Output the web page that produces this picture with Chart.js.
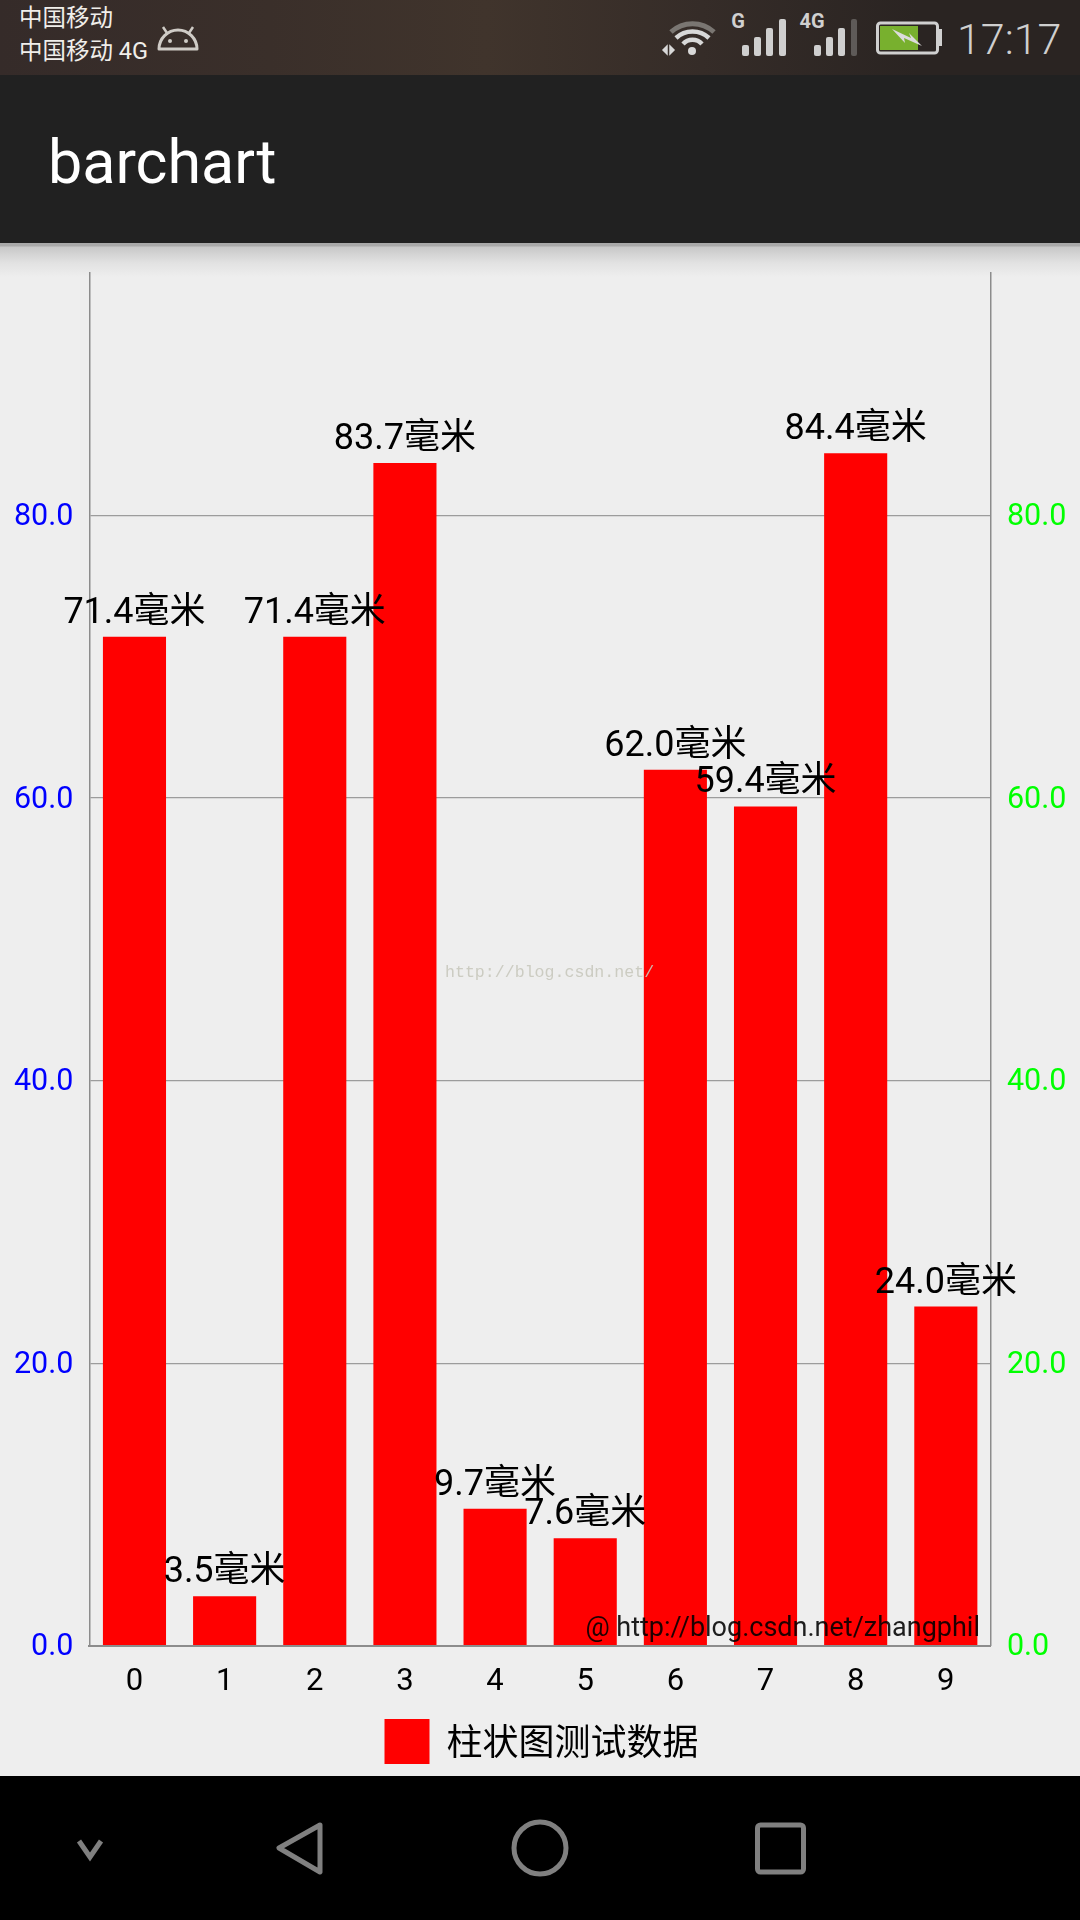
<!DOCTYPE html>
<html>
<head>
<meta charset="utf-8">
<script src="https://cdn.jsdelivr.net/npm/chart.js"></script>
<style>
html, body { margin: 0; padding: 0; width: 1080px; height: 1920px; overflow: hidden; background: #eeeeee; font-family: Roboto, "Noto Sans CJK SC", sans-serif; }
.abs { position: absolute; white-space: nowrap; }
#status { left: 0; top: 0; width: 1080px; height: 75px; background: linear-gradient(90deg, #352b29 0%, #3a2f2a 25%, #40342c 45%, #352c28 65%, #2a2422 85%, #2a2422 100%); }
#appbar { left: 0; top: 75px; width: 1080px; height: 168px; background: #212121; }
#shadow { left: 0; top: 243px; width: 1080px; height: 34px; background: linear-gradient(180deg, #a9a9a9 0, #a9a9a9 3px, #c8c8c8 4px, #e2e2e2 20px, #eeeeee 34px); }
#title { left: 48px; top: 125px; font-size: 61px; line-height: 74px; color: #ffffff; }
#nav { left: 0; top: 1776px; width: 1080px; height: 144px; background: #000000; }
canvas { position: absolute; left: 0; top: 0; }
.carrier { font-size: 23.5px; line-height: 33px; color: #f0eeea; left: 19px; }
</style>
</head>
<body>
<div class="abs" id="status"></div>
<div class="abs" id="appbar"></div>
<div class="abs" id="shadow"></div>
<div class="abs" id="title">barchart</div>
<div class="abs" id="nav"></div>
<div class="abs carrier" style="top:2px">中国移动</div>
<div class="abs carrier" style="top:35px">中国移动 4G</div>

<svg class="abs" style="left:0;top:0" width="1080" height="75">
  <!-- android head -->
  <path d="M159 49 A19 19 0 0 1 197 49 Z" fill="none" stroke="#cfcbc6" stroke-width="3" stroke-linejoin="round"/>
  <path d="M167 33 L163 27 M189 33 L193 27" stroke="#cfcbc6" stroke-width="2.5"/>
  <circle cx="170" cy="41" r="2" fill="#cfcbc6"/><circle cx="186" cy="41" r="2" fill="#cfcbc6"/>
  <!-- wifi -->
  <path d="M671 32 A32 32 0 0 1 714 32" fill="none" stroke="#7a7672" stroke-width="5"/>
  <path d="M676 38 A24 24 0 0 1 709 38" fill="none" stroke="#d8d8d8" stroke-width="4.5"/>
  <path d="M683 44 A13 13 0 0 1 702 44" fill="none" stroke="#d8d8d8" stroke-width="4.5"/>
  <circle cx="692" cy="51" r="4" fill="#d8d8d8"/>
  <path d="M663 50 L667 46 L667 54 Z M670 46 L670 54 L674 50 Z" fill="#d8d8d8" stroke="#d8d8d8" stroke-width="1.5"/>
  <!-- signal G -->
  <text x="738" y="28" font-family="Roboto" font-weight="700" font-size="20" fill="#d0d0d0" text-anchor="middle">G</text>
  <g fill="#cfcfcf">
    <rect x="742" y="45" width="7" height="11" rx="2"/><rect x="754" y="37" width="7" height="19" rx="2"/>
    <rect x="766" y="28" width="7" height="28" rx="2"/><rect x="779" y="19" width="7" height="37" rx="2"/>
    <rect x="814" y="45" width="7" height="11" rx="2"/><rect x="826" y="37" width="7" height="19" rx="2"/>
    <rect x="838" y="28" width="7" height="28" rx="2"/>
  </g>
  <rect x="851" y="19" width="6" height="37" rx="2" fill="#5e5a58"/>
  <text x="812" y="28" font-family="Roboto" font-weight="700" font-size="20" fill="#d0d0d0" text-anchor="middle">4G</text>
  <!-- battery -->
  <rect x="877.5" y="23" width="60" height="30" rx="3" fill="none" stroke="#d0d0d0" stroke-width="3"/>
  <rect x="938" y="29" width="4" height="17" fill="#d0d0d0"/>
  <rect x="880" y="26" width="38" height="24" fill="#78b02e"/>
  <path d="M892 29 L911 38 L909 33 L922 46 L904 38 L905 43 Z" fill="#dcdcdc"/>
  <text x="957" y="54" font-family="Roboto" font-weight="300" font-size="43" fill="#cfcfcf">17:17</text>
</svg>

<svg class="abs" style="left:0;top:1776px" width="1080" height="144">
  <path d="M79 65 L90 81 L101 65" fill="none" stroke="#808080" stroke-width="5"/>
  <path d="M320 49 L279 72 L320 96 Z" fill="none" stroke="#808080" stroke-width="5" stroke-linejoin="round"/>
  <circle cx="540" cy="72" r="26" fill="none" stroke="#808080" stroke-width="5"/>
  <rect x="757.5" y="49" width="46" height="47" rx="3" fill="none" stroke="#808080" stroke-width="5"/>
</svg>

<canvas id="barChart" width="1080" height="1920"></canvas>

<script>
const categories = ['0', '1', '2', '3', '4', '5', '6', '7', '8', '9'];
const values = [71.4, 3.5, 71.4, 83.7, 9.7, 7.6, 62.0, 59.4, 84.4, 24.0];
const seriesName = '柱状图测试数据';
const unit = '毫米';
const axisMax = 97.15;
const tickStep = 20;

const fontStack = 'Roboto, "Noto Sans CJK SC", sans-serif';
Chart.defaults.font.family = fontStack;

// the top of the axis is not a multiple of the step, so drop that tick
function keepStepTicks(scale) {
    scale.ticks = scale.ticks.filter(t => t.value % tickStep === 0);
}

// value labels above the bars, legend text and the two watermarks
const barLabels = {
    id: 'barLabels',
    afterDatasetsDraw(chart) {
        const ctx = chart.ctx;
        const bars = chart.getDatasetMeta(0).data;
        ctx.save();
        ctx.font = '36px ' + fontStack;
        ctx.fillStyle = '#000000';
        ctx.textAlign = 'center';
        ctx.textBaseline = 'alphabetic';
        bars.forEach((bar, i) => {
            ctx.fillText(values[i].toFixed(1) + unit, bar.x, bar.y - 14);
        });

        ctx.font = '16.6px "Liberation Mono", monospace';
        ctx.fillStyle = 'rgba(200,200,188,0.9)';
        ctx.textAlign = 'left';
        ctx.fillText('http://blog.csdn.net/', 445, 977);

        ctx.font = '27px ' + fontStack;
        ctx.fillStyle = 'rgba(0,0,0,0.88)';
        ctx.textAlign = 'right';
        ctx.fillText('@ http://blog.csdn.net/zhangphil', 980, 1636);
        ctx.restore();
    },
    afterDraw(chart) {
        // the built-in legend centres its text too high for this font
        const box = chart.legend.legendHitBoxes[0];
        const ctx = chart.ctx;
        ctx.save();
        ctx.font = '36px ' + fontStack;
        ctx.fillStyle = '#000000';
        ctx.textAlign = 'left';
        ctx.textBaseline = 'middle';
        ctx.fillText(seriesName, box.left + 62, box.top + 27);
        ctx.restore();
    }
};

new Chart(document.getElementById('barChart'), {
    type: 'bar',
    data: {
        labels: categories,
        datasets: [{
            label: seriesName,
            data: values,
            backgroundColor: '#ff0000',
            barPercentage: 0.7,
            categoryPercentage: 1
        }]
    },
    options: {
        responsive: false,
        animation: false,
        devicePixelRatio: 1,
        layout: { padding: { top: 273, bottom: 146, left: 4, right: 0 } },
        plugins: {
            tooltip: { enabled: false },
            legend: {
                position: 'bottom',
                labels: {
                    boxWidth: 45,
                    boxHeight: 45,
                    padding: 10,
                    color: 'rgba(0,0,0,0)',
                    font: { size: 36 }
                }
            }
        },
        scales: {
            x: {
                grid: { display: false },
                border: { display: true, color: '#8c8c8c', width: 2 },
                ticks: { color: '#000000', font: { size: 31 }, padding: 10, maxRotation: 0, autoSkip: false },
                afterFit: s => { s.height = 63.3; }
            },
            y: {
                position: 'left',
                min: 0,
                max: axisMax,
                grid: { color: '#9c9c9c', lineWidth: 1.2, drawTicks: false },
                border: { display: true, color: '#8c8c8c', width: 1.5 },
                ticks: { stepSize: tickStep, color: '#0000ff', font: { size: 30.5 }, padding: 16, labelOffset: 2, callback: v => v.toFixed(1) },
                afterBuildTicks: keepStepTicks,
                afterFit: s => { s.width = 85.4; }
            },
            y1: {
                position: 'right',
                min: 0,
                max: axisMax,
                grid: { display: false, drawTicks: false },
                border: { display: true, color: '#8c8c8c', width: 1.5 },
                ticks: { stepSize: tickStep, color: '#00ff00', font: { size: 30.5 }, padding: 16, labelOffset: 2, callback: v => v.toFixed(1) },
                afterBuildTicks: keepStepTicks,
                afterFit: s => { s.width = 89.1; }
            }
        }
    },
    plugins: [barLabels]
});
</script>
</body>
</html>
